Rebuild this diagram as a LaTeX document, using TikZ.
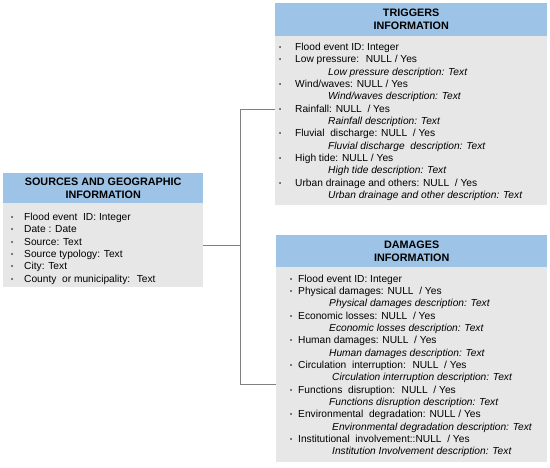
\documentclass[tikz,border=0pt]{standalone}
\usepackage{fontspec}
\setmainfont{Liberation Sans}
\usepackage{xcolor}
\usetikzlibrary{positioning}
\definecolor{headBlue}{RGB}{157,195,230}
\definecolor{bodyGray}{RGB}{231,231,231}
\definecolor{lineGray}{RGB}{128,128,128}
\newlength{\bgap}
\newlength{\dgap}
\newcommand{\itm}[1]{\makebox[\bgap][l]{\raisebox{1pt}{\fontsize{6}{6}\selectfont\textbullet}}#1}
\newcommand{\dsc}[1]{\hspace*{\bgap}\hspace*{\dgap}\textit{#1}}

\begin{document}
\begin{tikzpicture}[x=1pt,y=-1pt,
    head/.style={fill=headBlue, inner sep=0pt, anchor=north west, align=center,
      font=\fontsize{10.8}{13}\selectfont\bfseries},
    body/.style={fill=bodyGray, inner sep=0pt, anchor=north west},
    list/.style={inner sep=0pt, anchor=base west, align=left,
      font=\fontsize{10.2}{12.33}\selectfont},
    link/.style={draw=lineGray, line width=0.8pt}]
  \useasboundingbox (0,0) rectangle (550,467);

  % Triggers (list placed by its last baseline)
  \node[head, minimum width=272pt, minimum height=33pt] (trigHead) at (275,3) {TRIGGERS\\INFORMATION};
  \node[body, minimum width=272pt, minimum height=169pt] (trigBody) at (275,36) {};
  \setlength{\bgap}{16pt}\setlength{\dgap}{33pt}
  \node[list] (trigList) at (279,198.5) {%
    \itm{Flood event ID: Integer}\\
    \itm{Low pressure:~ NULL / Yes}\\
    \dsc{Low pressure description: Text}\\
    \itm{Wind/waves: NULL / Yes}\\
    \dsc{Wind/waves description: Text}\\
    \itm{Rainfall: NULL~ / Yes}\\
    \dsc{Rainfall description: Text}\\
    \itm{Fluvial~ discharge: NULL~ / Yes}\\
    \dsc{Fluvial discharge~ description: Text}\\
    \itm{High tide: NULL / Yes}\\
    \dsc{High tide description: Text}\\
    \itm{Urban drainage and others: NULL~ / Yes}\\
    \dsc{Urban drainage and other description: Text}};

  % Sources
  \node[head, minimum width=200pt, minimum height=30pt] (srcHead) at (3,173) {SOURCES AND GEOGRAPHIC\\INFORMATION};
  \node[body, minimum width=200pt, minimum height=84pt] (srcBody) at (3,203) {};
  \setlength{\bgap}{13pt}
  \node[list] (srcList) at (11,282.3) {%
    \itm{Flood event~ ID: Integer}\\
    \itm{Date : Date}\\
    \itm{Source: Text}\\
    \itm{Source typology: Text}\\
    \itm{City: Text}\\
    \itm{County~ or municipality:~ Text}};

  % Damages
  \node[head, minimum width=271pt, minimum height=32pt] (dmgHead) at (276,235) {DAMAGES\\INFORMATION};
  \node[body, minimum width=271pt, minimum height=195pt] (dmgBody) at (276,267) {};
  \setlength{\bgap}{8pt}\setlength{\dgap}{31pt}
  \node[list] (dmgList) at (290,454.8) {%
    \itm{Flood event ID: Integer}\\
    \itm{Physical damages: NULL~ / Yes}\\
    \dsc{Physical damages description: Text}\\
    \itm{Economic losses: NULL~ / Yes}\\
    \dsc{Economic losses description: Text}\\
    \itm{Human damages: NULL~ / Yes}\\
    \dsc{Human damages description: Text}\\
    \itm{Circulation~ interruption:~ NULL~ / Yes}\\
    \dsc{\hspace*{3pt}Circulation interruption description: Text}\\
    \itm{Functions~ disruption:~ NULL~ / Yes}\\
    \dsc{Functions disruption description: Text}\\
    \itm{Environmental~ degradation: NULL / Yes}\\
    \dsc{\hspace*{3pt}Environmental degradation description: Text}\\
    \itm{Institutional~ involvement::NULL~ / Yes}\\
    \dsc{\hspace*{3pt}Institution Involvement description: Text}};

  % Connectors
  \draw[link] (srcBody.east) -- ++(37,0) coordinate (split);
  \draw[link] (split) |- ([yshift=11.5pt]trigBody.west);
  \draw[link] (split) |- ([yshift=-19.5pt]dmgBody.west);
\end{tikzpicture}
\end{document}
